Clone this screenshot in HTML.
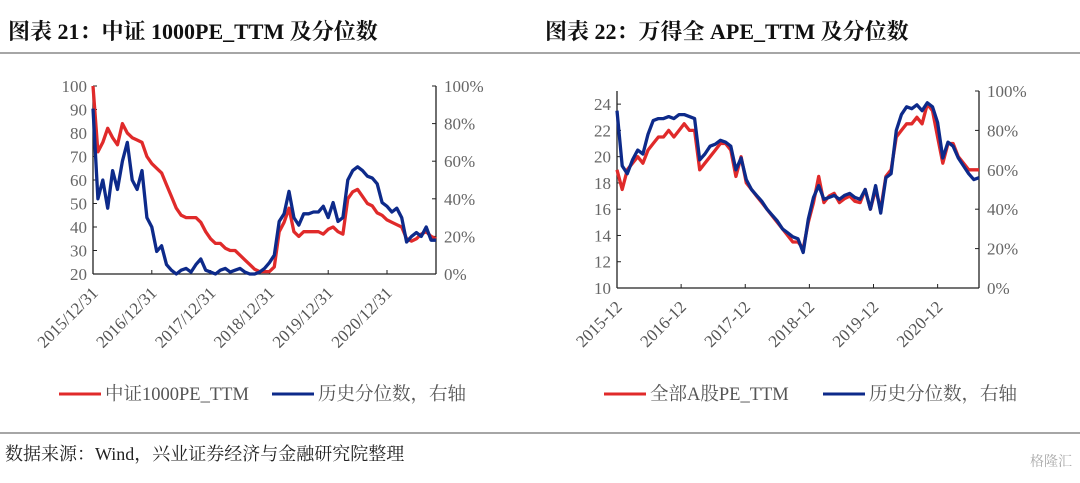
<!DOCTYPE html>
<html><head><meta charset="utf-8">
<style>
body{margin:0;background:#fff;width:1080px;height:478px;overflow:hidden}
svg text{font-family:"Liberation Serif","Noto Serif CJK SC",serif}
</style></head>
<body>
<svg id="s" width="1080" height="478" xmlns="http://www.w3.org/2000/svg">
<text x="8" y="39" font-size="22" font-weight="bold" fill="#111">图表 21：中证 1000PE_TTM 及分位数</text>
<text x="545" y="39" font-size="22" font-weight="bold" fill="#111">图表 22：万得全 APE_TTM 及分位数</text>
<line x1="0" y1="53" x2="1080" y2="53" stroke="#888" stroke-width="1.5"/>
<line x1="0" y1="433" x2="1080" y2="433" stroke="#888" stroke-width="1.5"/>
<text x="5" y="460" font-size="18" fill="#222">数据来源：Wind，兴业证券经济与金融研究院整理</text>
<text x="1030" y="466" font-size="14" fill="#aaa">格隆汇</text>
<g id="c1"></g><g id="c2"></g>
</svg>
<script>
const ns="http://www.w3.org/2000/svg";
// Left chart data (monthly)
const leftDates=["2015/12/31","2016/12/31","2017/12/31","2018/12/31","2019/12/31","2020/12/31"];
const leftLeftTicks=[20,30,40,50,60,70,80,90,100];
const leftRightTicks=[0,20,40,60,80,100];
const leftPE=[100,72,76,82,78,75,84,80,78,77,76,70,67,65,63,58,53,48,45,44,44,44,42,38,35,33,33,31,30,30,28,26,24,22,21,21,21,23,38,42,48,38,36,38,38,38,38,37,39,40,38,37,52,55,56,53,50,49,46,45,43,42,41,40,35,34,35,37,38,36,35];
const leftPct=[88,40,50,35,55,45,60,70,50,45,55,30,25,12,15,5,2,0,2,3,1,5,8,2,1,0,2,3,1,2,3,1,0,0,1,3,6,10,28,32,44,30,26,32,32,33,33,36,30,38,28,30,50,55,57,55,52,51,48,38,36,33,35,30,17,20,22,20,25,18,18];
// Right chart data (monthly)
const rightDates=["2015-12","2016-12","2017-12","2018-12","2019-12","2020-12"];
const rightLeftTicks=[10,12,14,16,18,20,22,24];
const rightRightTicks=[0,20,40,60,80,100];
const rightPE=[19,17.5,19,19.5,20,19.5,20.5,21,21.5,21.5,22,21.5,22,22.5,22,22,19,19.5,20,20.5,21,21,20.5,18.5,20,18,17.5,17,16.5,16,15.5,15,14.5,14,13.5,13.5,13,15,16.5,18.5,16.5,17,17.2,16.5,16.8,17,16.6,16.5,17.5,16,17.5,16,18.5,19,21.5,22,22.5,22.5,23,22.5,24,23.5,21.5,19.5,21,21,20,19.5,19,19,19];
const rightPct=[90,62,58,65,70,68,78,85,86,86,87,86,88,88,87,86,65,68,72,73,75,74,72,60,66,55,50,47,44,40,37,34,30,28,26,25,18,35,46,52,45,46,47,45,47,48,46,45,50,40,52,38,56,58,80,88,92,91,93,90,94,92,84,66,74,72,66,62,58,55,56];

function el(tag,attrs,parent,name,txt){const e=document.createElementNS(ns,tag);for(const k in attrs)e.setAttribute(k,attrs[k]);


if(txt!==undefined)e.textContent=txt;parent.appendChild(e);return e;}

function chart(g,o){
 const {x0,x1,y0,y1,lmin,lmax,rmin,rmax,ltk,rtk,dates,monthsPerYear,red,blue,lfmt,legendX,legendR}=o;
 const yL=v=>y0-(v-lmin)/(lmax-lmin)*(y0-y1);
 const yR=v=>y0-(v-rmin)/(rmax-rmin)*(y0-y1);
 const xs=(i,n)=>x0+i/(n-1)*(x1-x0);
 el('line',{x1:x0,y1:y1,x2:x0,y2:y0,stroke:'#222','stroke-width':1.3},g,'left-y-axis');
 el('line',{x1:x1,y1:y1,x2:x1,y2:y0,stroke:'#222','stroke-width':1.3},g,'right-y-axis');
 el('line',{x1:x0,y1:y0,x2:x1,y2:y0,stroke:'#222','stroke-width':1.3},g,'x-axis');
 ltk.forEach(t=>{const y=yL(t);el('line',{x1:x0,y1:y,x2:x0+4,y2:y,stroke:'#222'},g,'left-tick');
  el('text',{x:x0-6,y:y+6,'font-size':17,fill:'#666','text-anchor':'end'},g,'left-tick-label',lfmt(t));});
 rtk.forEach(t=>{const y=yR(t);el('line',{x1:x1-4,y1:y,x2:x1,y2:y,stroke:'#222'},g,'right-tick');
  el('text',{x:x1+8,y:y+6,'font-size':17,fill:'#666'},g,'right-tick-label',t+'%');});
 const n=red.length;
 dates.forEach((d,k)=>{const x=xs(k*monthsPerYear,n);el('line',{x1:x,y1:y0,x2:x,y2:y0-4,stroke:'#222'},g,'x-tick');
  el('text',{x:x+6,y:y0+20,'font-size':17,fill:'#555','text-anchor':'end',transform:`rotate(-45 ${x+6} ${y0+20})`},g,'x-tick-label',d);});
 el('path',{d:red.map((v,i)=>(i?'L':'M')+xs(i,n).toFixed(1)+' '+yL(v).toFixed(1)).join(''),fill:'none',stroke:'#e02a2a','stroke-width':3.3,'stroke-linejoin':'round'},g,'pe-line');
 el('path',{d:blue.map((v,i)=>(i?'L':'M')+xs(i,blue.length).toFixed(1)+' '+yR(v).toFixed(1)).join(''),fill:'none',stroke:'#0d2a8a','stroke-width':3.3,'stroke-linejoin':'round'},g,'percentile-line');
 el('line',{x1:legendX,y1:394,x2:legendX+42,y2:394,stroke:'#e02a2a','stroke-width':3},g,'legend-pe-swatch');
 el('text',{x:legendX+46,y:400,'font-size':18.5,fill:'#555'},g,'legend-pe-label',o.redName);
 el('line',{x1:legendR,y1:394,x2:legendR+42,y2:394,stroke:'#0d2a8a','stroke-width':3},g,'legend-percentile-swatch');
 el('text',{x:legendR+46,y:400,'font-size':18.5,fill:'#555'},g,'legend-percentile-label','历史分位数，右轴');
}
chart(document.getElementById('c1'),{x0:93,x1:436,y0:274,y1:86,lmin:20,lmax:100,rmin:0,rmax:100,ltk:leftLeftTicks,rtk:leftRightTicks,dates:leftDates,monthsPerYear:12,red:leftPE,blue:leftPct,lfmt:t=>String(t),legendX:59,legendR:272,redName:'中证1000PE_TTM'});
chart(document.getElementById('c2'),{x0:617,x1:979,y0:288,y1:91,lmin:10,lmax:25,rmin:0,rmax:100,ltk:rightLeftTicks,rtk:rightRightTicks,dates:rightDates,monthsPerYear:12.4,red:rightPE,blue:rightPct,lfmt:t=>String(t),legendX:604,legendR:823,redName:'全部A股PE_TTM'});
</script>
</body></html>
